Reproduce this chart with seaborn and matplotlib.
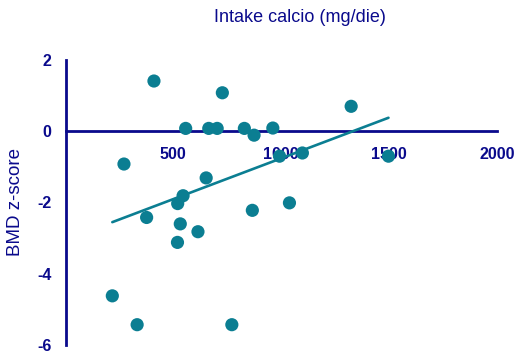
import matplotlib
matplotlib.use("Agg")
import matplotlib.pyplot as plt
import seaborn as sns
import pandas as pd

calcium_intake = [410, 727, 557, 664, 703, 829, 874, 961, 1324, 271, 652, 545, 520,
                  376, 532, 614, 519, 866, 1038, 992, 1098, 1497, 217, 332, 771]
bmd_zscore = [1.41, 1.08, 0.08, 0.08, 0.08, 0.08, -0.11, 0.09, 0.70, -0.92, -1.31, -1.81, -2.03,
              -2.42, -2.60, -2.82, -3.12, -2.22, -2.01, -0.70, -0.61, -0.70, -4.62, -5.43, -5.43]
x_ticks = [500, 1000, 1500, 2000]
y_ticks = [-6, -4, -2, 0, 2]
title_text = "Intake calcio (mg/die)"
ylabel_text = "BMD z-score"

df = pd.DataFrame({"intake": calcium_intake, "bmd": bmd_zscore})

sns.set_style("white")
plt.rcParams['font.family'] = ['Liberation Sans', 'DejaVu Sans']
plt.rcParams['axes.unicode_minus'] = False

navy = "#0A0A8C"
teal = "#0B7E92"

fig = plt.figure(figsize=(5.18, 3.54), dpi=100)
ax = fig.add_axes([65.5 / 518, 1 - 345 / 354, (497 - 65.5) / 518, (345 - 60) / 354])

sns.regplot(data=df, x="intake", y="bmd", ax=ax, ci=None, truncate=True,
            scatter_kws=dict(s=90, color=teal, edgecolor="none", alpha=1, zorder=5, clip_on=False),
            line_kws=dict(color=teal, lw=1.9, zorder=4))

ax.set_xlim(0, 2000)
ax.set_ylim(-6, 2)
ax.spines['top'].set_visible(False)
ax.spines['right'].set_visible(False)
ax.spines['bottom'].set_position(('data', 0))
for s in ('left', 'bottom'):
    ax.spines[s].set_color(navy)
    ax.spines[s].set_linewidth(2.0)
    ax.spines[s].set_zorder(3)

ax.set_xticks(x_ticks)
ax.set_yticks(y_ticks)
ax.tick_params(axis='both', direction='out', length=6, width=2.0, color=navy,
               labelcolor=navy, labelsize=11.5)
ax.tick_params(axis='x', pad=5)
ax.tick_params(axis='y', pad=4)
for lbl in ax.get_xticklabels() + ax.get_yticklabels():
    lbl.set_fontweight('bold')

ax.set_xlabel("")
ax.set_ylabel("")
fig.text(300 / 518, 1 - 18 / 354, title_text, ha='center', va='center',
         fontsize=13, color=navy)
fig.text(16 / 518, 1 - 202 / 354, ylabel_text, ha='center', va='center',
         rotation=90, fontsize=13.5, color=navy)

fig.savefig("out.png", dpi=100)
